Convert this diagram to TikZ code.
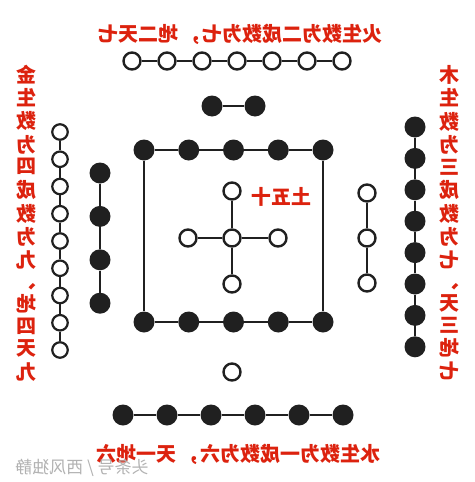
\documentclass[tikz,border=0pt]{standalone}
\usepackage{fontspec}
\usepackage{graphicx}
\newfontfamily\cjk{Noto Sans CJK SC}
\definecolor{cinnabar}{RGB}{220, 34, 14}
\definecolor{inkblack}{RGB}{32, 32, 32}
\definecolor{stampgray}{RGB}{178, 178, 178}
\newcommand{\mirrortext}[1]{\scalebox{-1}[1]{#1}}

\begin{document}
\begin{tikzpicture}[x=1pt, y=-1pt,
    yang/.style={circle, draw=inkblack, fill=white, line width=2.4pt, minimum size=17pt, inner sep=0pt},
    smallyang/.style={yang, line width=2.2pt, minimum size=15.5pt},
    yin/.style={circle, fill=inkblack, minimum size=21pt, inner sep=0pt},
    link/.style={inkblack, line width=2pt},
    caption/.style={text=cinnabar, font=\cjk\bfseries\fontsize{20}{21}\selectfont, inner sep=0pt},
    colcaption/.style={caption, align=center}]
            \useasboundingbox (0,0) rectangle (474,482);
            % Fire: seven yang, two yin
            \foreach \i in {1,...,7}
                \node[yang] (fire\i) at ({132+35*(\i-1)}, 61) {};
            \foreach \i [count=\j from 2] in {1,...,6}
                \draw[link] (fire\i) -- (fire\j);
            \node[yin] (fireyin1) at (212,106) {};
            \node[yin] (fireyin2) at (255,106) {};
            \draw[link] (fireyin1) -- (fireyin2);
            % Earth: square of ten yin, cross of five yang
            \foreach \i in {1,...,5} {
                \node[yin] (earthtop\i) at ({144+44.75*(\i-1)}, 150) {};
                \node[yin] (earthbot\i) at ({144+44.75*(\i-1)}, 322) {};
            }
            \foreach \i [count=\j from 2] in {1,...,4} {
                \draw[link] (earthtop\i) -- (earthtop\j);
                \draw[link] (earthbot\i) -- (earthbot\j);
            }
            \draw[link] (earthtop1) -- (earthbot1);
            \draw[link] (earthtop5) -- (earthbot5);
            \node[yang] (earthc) at (232,238) {};
            \node[yang] (earthn) at (232,191) {};
            \node[yang] (earths) at (232,284) {};
            \node[yang] (earthw) at (188,238) {};
            \node[yang] (earthe) at (278,238) {};
            \foreach \k in {n,s,w,e}
                \draw[link] (earthc) -- (earth\k);
            % Water: one yang, six yin
            \node[yang] (water) at (232,372) {};
            \foreach \i in {1,...,6}
                \node[yin] (wateryin\i) at ({123+44*(\i-1)}, 415) {};
            \foreach \i [count=\j from 2] in {1,...,5}
                \draw[link] (wateryin\i) -- (wateryin\j);
            % Wood: three yang, eight yin
            \foreach \i in {1,...,3}
                \node[yang] (wood\i) at (367, {193+45*(\i-1)}) {};
            \foreach \i [count=\j from 2] in {1,...,2}
                \draw[link] (wood\i) -- (wood\j);
            \foreach \i in {1,...,8}
                \node[yin] (woodyin\i) at (415, {127+31.4*(\i-1)}) {};
            \foreach \i [count=\j from 2] in {1,...,7}
                \draw[link] (woodyin\i) -- (woodyin\j);
            % Metal: four yin, nine yang
            \foreach \i in {1,...,4}
                \node[yin] (metalyin\i) at (100, {173+43.4*(\i-1)}) {};
            \foreach \i [count=\j from 2] in {1,...,3}
                \draw[link] (metalyin\i) -- (metalyin\j);
            \foreach \i in {1,...,9}
                \node[smallyang] (metal\i) at (60, {132+27.25*(\i-1)}) {};
            \foreach \i [count=\j from 2] in {1,...,8}
                \draw[link] (metal\i) -- (metal\j);
            % Captions (mirrored as printed)
            \node[caption] (firetext) at (240,34) {\mirrortext{火生数为二成数为七，\hspace{4pt}地二天七}};
            \node[caption] (watertext) at (238,454) {\mirrortext{水生数为一成数为六，\hspace{4pt}天一地六}};
            \node[caption] (earthtext) at (281,197) {\mirrortext{土五十}};
            \node[colcaption] (metaltext) at (26,225)
                 {\mirrortext{\begin{tabular}{@{}c@{}}金\\生\\数\\为\\四\\成\\数\\为\\九\\、\\地\\四\\天\\九\end{tabular}}};
            \node[colcaption] (woodtext) at (449,225)
                 {\mirrortext{\begin{tabular}{@{}c@{}}木\\生\\数\\为\\三\\成\\数\\为\\七\\、\\天\\三\\地\\七\end{tabular}}};
            \node[text=stampgray, font=\cjk\fontsize{17}{18}\selectfont, inner sep=0pt] (stamp) at (82,468)
                 {\mirrortext{头条号 / 西风独静}};
        \end{tikzpicture}
\end{document}
